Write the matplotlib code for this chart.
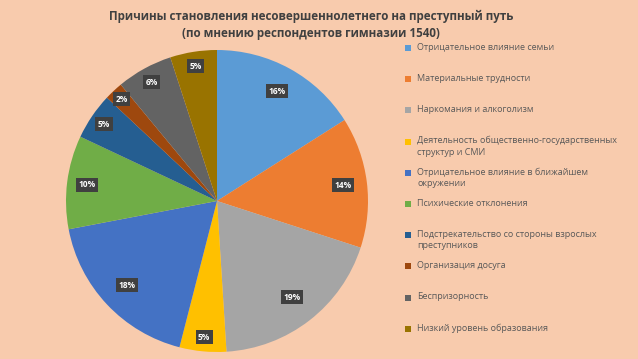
import numpy as np
import matplotlib.pyplot as plt
from matplotlib.patches import Rectangle

plt.rcParams['font.family'] = ['Open Sans', 'DejaVu Sans']

categories = [
    'Отрицательное влияние семьи',
    'Материальные трудности',
    'Наркомания и алкоголизм',
    'Деятельность общественно-государственных\nструктур и СМИ',
    'Отрицательное влияние в ближайшем\nокружении',
    'Психические отклонения',
    'Подстрекательство со стороны взрослых\nпреступников',
    'Организация досуга',
    'Беспризорность',
    'Низкий уровень образования',
]
values = [16, 14, 19, 5, 18, 10, 5, 2, 6, 5]
colors = ['#5B9BD5', '#ED7D31', '#A5A5A5', '#FFC000', '#4472C4',
          '#70AD47', '#255E91', '#9E480E', '#636363', '#997300']
title = ('Причины становления несовершеннолетнего на преступный путь\n'
         '(по мнению респондентов гимназии 1540)')

bg = '#F8CBAD'
fig = plt.figure(figsize=(6.38, 3.59), dpi=100, facecolor=bg)

# pie: centre ~ (217, 201) px, radius ~151 px
ax = fig.add_axes([(217 - 151) / 638, 1 - (201 + 151) / 359,
                   302 / 638, 302 / 359])
ax.set_facecolor(bg)
wedges, _ = ax.pie(values, colors=colors, startangle=90, counterclock=False,
                   wedgeprops=dict(linewidth=0))
ax.set_xlim(-1, 1)
ax.set_ylim(-1, 1)
ax.set_aspect('equal')

# data labels sit further out on thin slices (like Excel's best fit)
for w, v in zip(wedges, values):
    ang = np.deg2rad((w.theta1 + w.theta2) / 2)
    r = 0.94 - 0.007 * v
    ax.text(r * np.cos(ang), r * np.sin(ang), f'{v}%', color='white',
            fontsize=6, fontweight='bold', ha='center', va='center',
            bbox=dict(boxstyle='square,pad=0.3', fc='#404040', ec='none'))

fig.text(311 / 638, 1 - 25 / 359, title, ha='center', va='center',
         fontsize=8.4, fontweight='bold', color='#404040', linespacing=1.4)

# legend, first lines spaced ~31.2 px apart
for i, (lab, col) in enumerate(zip(categories, colors)):
    y = 48 + i * 31.2
    fig.patches.append(Rectangle((405 / 638, 1 - (y + 3) / 359), 6 / 638, 6 / 359,
                                 transform=fig.transFigure, fc=col, ec='none'))
    fig.text(417 / 638, 1 - (y - 5.5) / 359, lab, ha='left', va='top',
             fontsize=6.5, color='#595959', linespacing=1.4)

fig.savefig('out.png', dpi=100, facecolor=bg)
